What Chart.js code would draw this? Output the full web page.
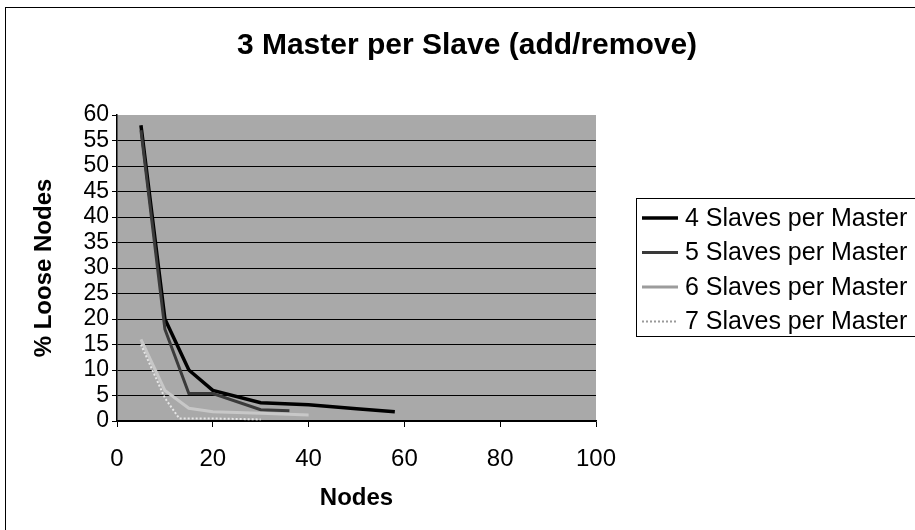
<!DOCTYPE html>
<html>
<head>
<meta charset="utf-8">
<script src="https://cdn.jsdelivr.net/npm/chart.js@4"></script>
<style>
  html, body { margin: 0; padding: 0; background: #fff; }
  #wrap { width: 915px; height: 530px; }
</style>
</head>
<body>
<div id="wrap"><canvas id="chart" width="915" height="530"></canvas></div>
<script>
// Values
const TITLE = "3 Master per Slave (add/remove)";
const X_LABEL = "Nodes", Y_LABEL = "% Loose Nodes";
const SERIES_NAMES = ["4 Slaves per Master", "5 Slaves per Master", "6 Slaves per Master", "7 Slaves per Master"];
const nodes4 = [5, 10, 15, 20, 30, 40, 50, 58];
const loose4 = [58, 20, 10, 6, 3.6, 3.2, 2.4, 1.8];
const nodes5 = [5, 10, 15, 20, 30, 36];
const loose5 = [57, 18, 5.4, 5.4, 2.2, 2.0];
const nodes6 = [5, 10, 15, 20, 30, 40];
const loose6 = [16, 6, 2.5, 1.8, 1.5, 1.2];
const nodes7 = [5, 10, 13, 20, 30];
const loose7 = [15, 4.5, 0.5, 0.5, 0.3];
const X_TICKS = [0, 20, 40, 60, 80, 100];
const Y_TICKS = [0, 5, 10, 15, 20, 25, 30, 35, 40, 45, 50, 55, 60];

const FONT = "'Liberation Sans', Arial, sans-serif";
const STYLES = [
  { color: "#000000", width: 3.5, dash: [] },
  { color: "#3a3a3a", width: 3, dash: [] },
  { color: "#c8c8c8", width: 3, dash: [] },
  { color: "#e6e6e6", width: 2, dash: [2, 2] }
];

const pts = (xs, ys) => xs.map((x, i) => ({ x, y: ys[i] }));
const seriesData = [pts(nodes4, loose4), pts(nodes5, loose5), pts(nodes6, loose6), pts(nodes7, loose7)];

const datasets = seriesData.map((d, i) => ({
  label: SERIES_NAMES[i], data: d,
  borderColor: STYLES[i].color, backgroundColor: STYLES[i].color,
  borderWidth: STYLES[i].width, borderDash: STYLES[i].dash,
  pointRadius: 0, tension: 0, fill: false
})).reverse(); // draw the dark series last so they sit on top

// grey plot area, white page, thin frame round the whole chart
const frame = {
  id: "frame",
  beforeDraw(chart) {
    const { ctx, chartArea: a } = chart;
    ctx.save();
    ctx.fillStyle = "#fff";
    ctx.fillRect(0, 0, chart.width, chart.height);
    ctx.fillStyle = "#a9a9a9";
    ctx.fillRect(a.left, a.top, a.right - a.left, a.bottom - a.top);
    ctx.strokeStyle = "#000"; ctx.lineWidth = 1;
    ctx.strokeRect(5.5, 7.5, chart.width + 10, chart.height + 10);
    ctx.restore();
  }
};

// boxed legend at the right, partly cut by the page edge as in the scan
const boxLegend = {
  id: "boxLegend",
  afterDraw(chart) {
    const { ctx } = chart;
    ctx.save();
    ctx.strokeStyle = "#000"; ctx.lineWidth = 1;
    ctx.strokeRect(636.5, 198.5, 300, 138);
    ctx.font = "25px " + FONT;
    ctx.textBaseline = "middle";
    ctx.fillStyle = "#000";
    SERIES_NAMES.forEach((name, i) => {
      const y = 218 + i * 34.5;
      const s = STYLES[i];
      ctx.beginPath();
      ctx.strokeStyle = i === 3 ? "#9a9a9a" : (i === 2 ? "#9c9c9c" : s.color);
      ctx.lineWidth = s.width;
      ctx.setLineDash(s.dash);
      ctx.moveTo(642, y); ctx.lineTo(678, y);
      ctx.stroke();
      ctx.setLineDash([]);
      ctx.fillText(name, 685, y + 1);
    });
    ctx.restore();
  }
};

new Chart(document.getElementById("chart"), {
  type: "line",
  data: { datasets },
  plugins: [frame, boxLegend],
  options: {
    responsive: false, animation: false,
    layout: { padding: { left: 19, right: 0, top: 0, bottom: 0 } },
    plugins: {
      legend: { display: false },
      tooltip: { enabled: false },
      title: {
        display: true, text: TITLE, color: "#000",
        font: { family: FONT, size: 30, weight: "bold" },
        padding: { top: 28, bottom: 51 }
      }
    },
    scales: {
      x: {
        type: "linear", min: 0, max: 100,
        afterBuildTicks: s => { s.ticks = X_TICKS.map(v => ({ value: v })); },
        afterFit: s => { s.height = 109; },
        border: { color: "#000", width: 1.5 },
        grid: { drawOnChartArea: false, drawTicks: true, tickLength: 6, tickColor: "#000" },
        ticks: { color: "#000", padding: 18, font: { family: FONT, size: 24 } },
        title: { display: true, text: X_LABEL, color: "#000", padding: { top: 17, bottom: 17 },
                 font: { family: FONT, size: 24, weight: "bold" } }
      },
      y: {
        type: "linear", min: 0, max: 60,
        afterBuildTicks: s => { s.ticks = Y_TICKS.map(v => ({ value: v })); },
        afterFit: s => { s.width = 98; },
        border: { color: "#000", width: 1.5 },
        grid: {
          color: c => (c.tick && c.tick.value === 60 ? "rgba(0,0,0,0)" : "#000"),
          tickColor: "#000", lineWidth: 1, tickLength: 5
        },
        ticks: { color: "#000", padding: 3, autoSkip: false, font: { family: FONT, size: 23 } },
        title: { display: true, text: Y_LABEL, color: "#000", padding: { top: 11, bottom: 11 },
                 font: { family: FONT, size: 24, weight: "bold" } }
      },
      yR: {
        type: "linear", position: "right", display: true,
        afterFit: s => { s.width = 319; },
        border: { display: false }, grid: { display: false }, ticks: { display: false }
      }
    }
  }
});
</script>
</body>
</html>
